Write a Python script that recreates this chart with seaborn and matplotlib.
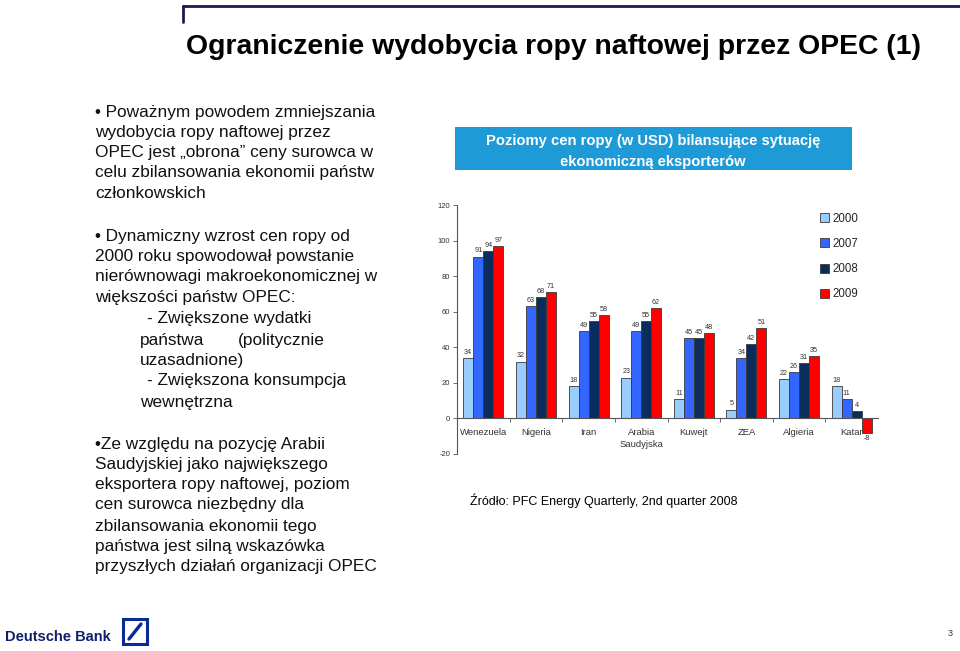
import numpy as np
import pandas as pd
import matplotlib.pyplot as plt
import matplotlib.patches as mpatches
import matplotlib.lines as mlines
import seaborn as sns

# chart data (USD per barrel)
countries = ["Wenezuela", "Nigeria", "Iran", "Arabia\nSaudyjska", "Kuwejt", "ZEA", "Algieria", "Katar"]
years = ["2000", "2007", "2008", "2009"]
v2000 = [34, 32, 18, 23, 11, 5, 22, 18]
v2007 = [91, 63, 49, 49, 45, 34, 26, 11]
v2008 = [94, 68, 55, 55, 45, 42, 31, 4]
v2009 = [97, 71, 58, 62, 48, 51, 35, -8]
year_colors = ["#99CCFF", "#3366FF", "#0B2D5E", "#FF0000"]
y_ticks = [-20, 0, 20, 40, 60, 80, 100, 120]

df = pd.DataFrame({
    "kraj": countries * 4,
    "rok": np.repeat(years, len(countries)),
    "cena": v2000 + v2007 + v2008 + v2009,
})

sns.set_theme(style="white")
plt.rcParams["font.family"] = ["Liberation Sans", "DejaVu Sans"]

W, H = 960, 651
fig = plt.figure(figsize=(9.6, 6.51), dpi=100)


def px(x, y):
    # pixel coords of the slide -> figure fraction
    return x / W, 1 - y / H


# chart axes
ax = fig.add_axes([457 / W, 1 - 454 / H, 421 / W, 249 / H])
sns.barplot(data=df, x="kraj", y="cena", hue="rok", palette=year_colors,
            width=0.76, gap=0, edgecolor="#3a3a3a", linewidth=0.6,
            saturation=1, ax=ax, legend=True)

ax.set_ylim(-20, 120)
ax.set_xlim(-0.5, len(countries) - 0.5)
ax.set_yticks(y_ticks)
ax.set_yticklabels([str(t) for t in y_ticks], fontsize=5.5, color="#333333")
ax.set_xlabel("")
ax.set_ylabel("")

for s in ["top", "right"]:
    ax.spines[s].set_visible(False)
ax.spines["left"].set_color("#555555")
ax.spines["left"].set_linewidth(0.8)
ax.spines["bottom"].set_position(("data", 0))
ax.spines["bottom"].set_color("#555555")
ax.spines["bottom"].set_linewidth(0.8)
ax.tick_params(axis="y", direction="out", length=3, width=0.6, color="#555555", left=True, pad=2)
ax.set_xticks(range(len(countries)))
ax.set_xticklabels([])
ax.tick_params(axis="x", length=0)
ax.set_xticks(np.arange(0.5, len(countries) - 0.5, 1), minor=True)
ax.tick_params(axis="x", which="minor", direction="out", length=3, width=0.6,
               color="#555555", bottom=True)

for i, name in enumerate(countries):
    ax.text(i, -5.2, name, ha="center", va="top", fontsize=6.8,
            color="#333333", zorder=0, linespacing=1.45)

for cont in ax.containers:
    ax.bar_label(cont, fmt="%d", fontsize=5.2, color="#333333", padding=1.5)

handles = [mpatches.Patch(facecolor=c, edgecolor="#3a3a3a", linewidth=0.6) for c in year_colors]
ax.get_legend().remove()
fig.legend(handles, years, loc="upper left", bbox_to_anchor=px(815, 208),
           frameon=False, fontsize=8.3, handlelength=0.8, handleheight=0.8,
           handletextpad=0.3, labelspacing=1.15, borderaxespad=0)

# header box over the chart
x0, y0 = px(455, 170)
fig.patches.append(mpatches.Rectangle((x0, y0), (852 - 455) / W, 43 / H,
                                      transform=fig.transFigure, facecolor="#1E9AD6",
                                      edgecolor="none", zorder=0))
fig.text(*px(653, 141), "Poziomy cen ropy (w USD) bilansujące sytuację",
         ha="center", va="center", fontsize=10.6, fontweight="bold", color="white")
fig.text(*px(653, 162), "ekonomiczną eksporterów",
         ha="center", va="center", fontsize=10.6, fontweight="bold", color="white")

# slide title
fig.text(*px(553, 47), "Ograniczenie wydobycia ropy naftowej przez OPEC (1)",
         ha="center", va="center", fontsize=20.4, fontweight="bold", color="black")

# top frame line
fig.add_artist(mlines.Line2D([183 / W, 1.0], [1 - 6 / H, 1 - 6 / H],
                             transform=fig.transFigure, color="#1a1a50", lw=2))
fig.add_artist(mlines.Line2D([183 / W, 183 / W], [1 - 6 / H, 1 - 22 / H],
                             transform=fig.transFigure, color="#1a1a50", lw=2))

# left bullet text: (x, y, text)
left_lines = [
    (95, 112, "• Poważnym powodem zmniejszania"),
    (95, 132, "wydobycia ropy naftowej przez"),
    (95, 153, "OPEC jest „obrona” ceny surowca w"),
    (95, 173, "celu zbilansowania ekonomii państw"),
    (95, 194, "członkowskich"),
    (95, 236, "• Dynamiczny wzrost cen ropy od"),
    (95, 257, "2000 roku spowodował powstanie"),
    (95, 277, "nierównowagi makroekonomicznej w"),
    (95, 298, "większości państw OPEC:"),
    (147, 319, "- Zwiększone wydatki"),
    (140, 340, "państwa"),
    (238, 340, "(politycznie"),
    (140, 360, "uzasadnione)"),
    (147, 381, "- Zwiększona konsumpcja"),
    (140, 402, "wewnętrzna"),
    (95, 444, "•Ze względu na pozycję Arabii"),
    (95, 464, "Saudyjskiej jako największego"),
    (95, 485, "eksportera ropy naftowej, poziom"),
    (95, 505, "cen surowca niezbędny dla"),
    (95, 526, "zbilansowania ekonomii tego"),
    (95, 546, "państwa jest silną wskazówka"),
    (95, 567, "przyszłych działań organizacji OPEC"),
]
for x, y, t in left_lines:
    fig.text(*px(x, y), t, ha="left", va="center", fontsize=12.4, color="#111111")

# source
fig.text(*px(470, 501), "Źródło: PFC Energy Quarterly, 2nd quarter 2008",
         ha="left", va="center", fontsize=9, color="black")

# footer: logo and page number
fig.text(*px(5, 637), "Deutsche Bank", ha="left", va="center", fontsize=10.5,
         fontweight="bold", color="#10206A")
lx, ly = px(123, 644)
fig.patches.append(mpatches.Rectangle((lx, ly), 24 / W, 25 / H, transform=fig.transFigure,
                                      facecolor="white", edgecolor="#0A2A9A", lw=2.2))
fig.add_artist(mlines.Line2D([129 / W, 141 / W], [1 - 639 / H, 1 - 624 / H],
                             transform=fig.transFigure, color="#0A2A9A", lw=2.4))
fig.text(*px(950, 633), "3", ha="center", va="center", fontsize=6.5, color="#333333")

fig.savefig("out.png", dpi=100, facecolor="white")
